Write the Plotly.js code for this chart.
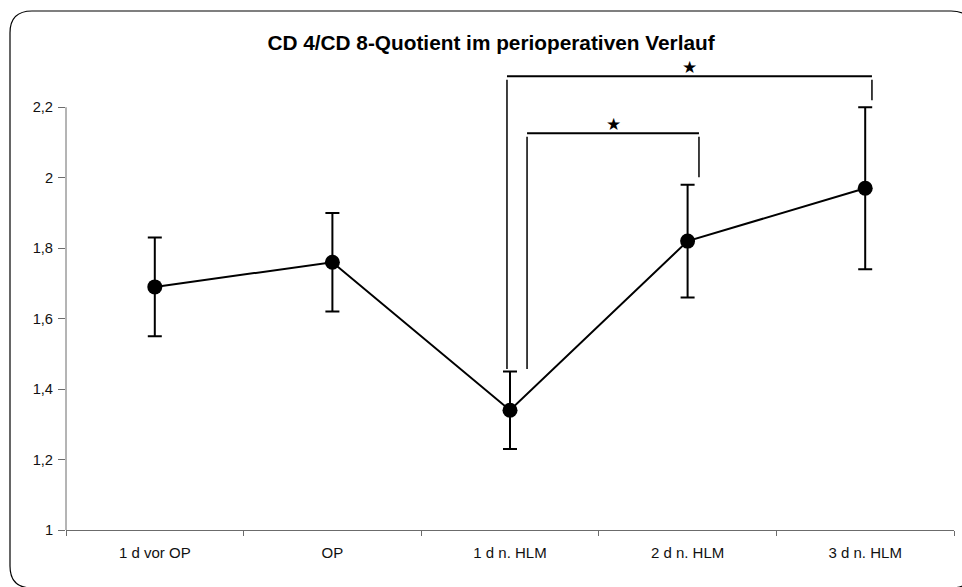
<!DOCTYPE html>
<html>
<head>
<meta charset="utf-8">
<script src="https://cdn.plot.ly/plotly-3.0.1.min.js"></script>
<style>
  html, body { margin: 0; padding: 0; background: #fff; }
  #chart { width: 962px; height: 587px; }
</style>
</head>
<body>
<div id="chart"></div>
<script>
// Perioperative course of the CD4/CD8 ratio (mean ± deviation)
const categories = ['1 d vor OP', 'OP', '1 d n. HLM', '2 d n. HLM', '3 d n. HLM'];
const ratioMean  = [1.69, 1.76, 1.34, 1.82, 1.97];
const ratioError = [0.14, 0.14, 0.11, 0.16, 0.23];
const yTickVals  = [1, 1.2, 1.4, 1.6, 1.8, 2, 2.2];

// Significance brackets: [left end, right end] in category index units,
// bracket height, and where the two legs stop
const brackets = [
  { x0: 1.983, x1: 4.038, level: 2.288, leftEnd: 1.457, rightEnd: 2.22, label: '★' },
  { x0: 2.096, x1: 3.064, level: 2.126, leftEnd: 1.457, rightEnd: 2.001, label: '★' }
];

const W = 962, H = 587;
const M = { l: 66, r: 8, t: 72, b: 57 };
const plotW = W - M.l - M.r, plotH = H - M.t - M.b;
const px2x = px => (px - M.l) / plotW;
const py2y = py => (H - M.b - py) / plotH;

// Rounded outer frame around the whole chart
function framePath(L, T, R, B, r) {
  const X = px2x, Y = py2y;
  return `M ${X(L + r)},${Y(T)} L ${X(R - r)},${Y(T)} Q ${X(R)},${Y(T)} ${X(R)},${Y(T + r)} ` +
         `L ${X(R)},${Y(B - r)} Q ${X(R)},${Y(B)} ${X(R - r)},${Y(B)} ` +
         `L ${X(L + r)},${Y(B)} Q ${X(L)},${Y(B)} ${X(L)},${Y(B - r)} ` +
         `L ${X(L)},${Y(T + r)} Q ${X(L)},${Y(T)} ${X(L + r)},${Y(T)} Z`;
}

const font = 'Liberation Sans, Arial, sans-serif';
const axisColor = '#6b6b6b';

const shapes = [
  { type: 'path', xref: 'paper', yref: 'paper', path: framePath(10, 11, 973, 588, 22),
    line: { color: '#000', width: 1.2 } },
  // vertical axis line, spanning the labelled range only
  { type: 'line', xref: 'paper', yref: 'y', x0: 0, x1: 0, y0: yTickVals[0], y1: yTickVals[yTickVals.length - 1],
    line: { color: axisColor, width: 1 } }
];
const annotations = [];
brackets.forEach(b => {
  const gap = 0.01;
  shapes.push({ type: 'line', xref: 'x', yref: 'y', x0: b.x0, x1: b.x1, y0: b.level, y1: b.level,
                line: { color: '#000', width: 2 } });
  shapes.push({ type: 'line', xref: 'x', yref: 'y', x0: b.x0, x1: b.x0, y0: b.level - gap, y1: b.leftEnd,
                line: { color: '#000', width: 1.5 } });
  shapes.push({ type: 'line', xref: 'x', yref: 'y', x0: b.x1, x1: b.x1, y0: b.level - gap, y1: b.rightEnd,
                line: { color: '#000', width: 1.5 } });
  annotations.push({ xref: 'x', yref: 'y', x: (b.x0 + b.x1) / 2, y: b.level, yshift: 9, text: b.label,
                     showarrow: false, xanchor: 'center', yanchor: 'middle',
                     font: { family: 'DejaVu Sans, sans-serif', size: 17, color: '#000' } });
});

const trace = {
  type: 'scatter',
  mode: 'lines+markers',
  x: categories,
  y: ratioMean,
  line: { color: '#000', width: 2 },
  marker: { color: '#000', size: 15, symbol: 'circle' },
  error_y: { type: 'data', array: ratioError, visible: true, color: '#000', thickness: 2, width: 7 },
  hoverinfo: 'x+y'
};

const layout = {
  width: W, height: H,
  margin: M,
  paper_bgcolor: '#fff', plot_bgcolor: '#fff',
  separators: ',.',
  showlegend: false,
  title: {
    text: 'CD 4/CD 8-Quotient im perioperativen Verlauf',
    font: { family: font, size: 20.8, color: '#000', weight: 700 },
    xref: 'container', yref: 'container',
    x: 491 / W, xanchor: 'center',
    y: 1 - 42.5 / H, yanchor: 'middle'
  },
  xaxis: {
    type: 'category',
    range: [-0.5, categories.length - 0.5],
    showline: true, linecolor: axisColor, linewidth: 1,
    ticks: 'outside', tickson: 'boundaries', ticklen: 5, tickcolor: axisColor, tickwidth: 1,
    ticklabelstandoff: 9,
    showgrid: false, zeroline: false,
    tickfont: { family: font, size: 15, color: '#111' }
  },
  yaxis: {
    range: [1, 2.3],
    tickmode: 'array', tickvals: yTickVals,
    showline: false,
    ticks: 'outside', ticklen: 7, tickcolor: axisColor, tickwidth: 1,
    ticklabelstandoff: 2,
    showgrid: false, zeroline: false,
    tickfont: { family: font, size: 14.7, color: '#111' }
  },
  shapes: shapes,
  annotations: annotations
};

Plotly.newPlot('chart', [trace], layout, { displayModeBar: false, staticPlot: true });
</script>
</body>
</html>
